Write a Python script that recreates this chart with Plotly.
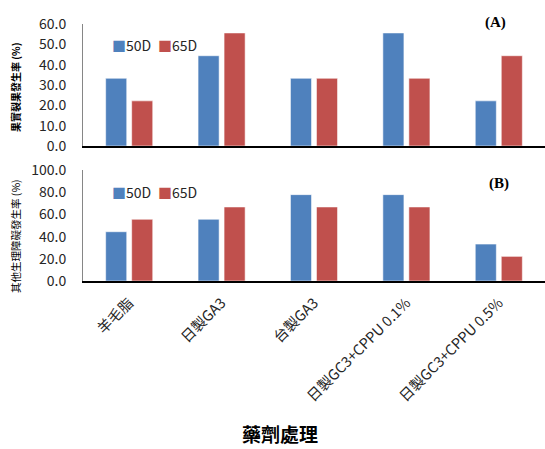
import plotly.graph_objects as go

categories = ["羊毛脂", "日製GA3", "台製GA3", "日製GC3+CPPU 0.1%", "日製GC3+CPPU 0.5%"]
a_50d = [33.3, 44.4, 33.3, 55.6, 22.2]
a_65d = [22.2, 55.6, 33.3, 33.3, 44.4]
b_50d = [44.4, 55.6, 77.8, 77.8, 33.3]
b_65d = [55.6, 66.7, 66.7, 66.7, 22.2]
series_names = ["50D", "65D"]
y_title_a = "果實裂果發生率 (%)"
y_title_b = "其他生理障礙發生率 (%)"
x_title = "藥劑處理"

BLUE = "#4F81BD"
RED = "#C0504D"
W, H = 545, 449
L = 83
FONT = "Noto Sans CJK TC, Noto Sans, sans-serif"

def py(px):
    return 1 - px / H

def pxx(px):
    return (px - L) / (W - L)

fig = go.Figure()
edge = dict(color="rgba(255,255,255,0.55)", width=1)
fig.add_trace(go.Bar(x=categories, y=a_50d, name=series_names[0], marker=dict(color=BLUE, line=edge),
                     xaxis="x", yaxis="y", showlegend=False))
fig.add_trace(go.Bar(x=categories, y=a_65d, name=series_names[1], marker=dict(color=RED, line=edge),
                     xaxis="x", yaxis="y", showlegend=False))
fig.add_trace(go.Bar(x=categories, y=b_50d, name=series_names[0], marker=dict(color=BLUE, line=edge),
                     xaxis="x2", yaxis="y2", showlegend=False))
fig.add_trace(go.Bar(x=categories, y=b_65d, name=series_names[1], marker=dict(color=RED, line=edge),
                     xaxis="x2", yaxis="y2", showlegend=False))

tickfont = dict(family=FONT, size=14, color="#262626")
common_x = dict(type="category", range=[-0.5, 4.5], showline=True, linecolor="#000000", linewidth=1.5,
                ticks="", showgrid=False, zeroline=False, automargin=False)
common_y = dict(showline=True, linecolor="#868686", linewidth=1, ticks="", showgrid=False, zeroline=False,
                tickformat=".1f", tickfont=tickfont, automargin=False, ticklabelstandoff=13)

fig.update_layout(
    width=W, height=H,
    margin=dict(l=L, r=0, t=0, b=0),
    paper_bgcolor="white", plot_bgcolor="white",
    barmode="group", bargap=0.437, bargroupgap=0.19,
    xaxis=dict(domain=[0, 1], anchor="y", showticklabels=False, **common_x),
    yaxis=dict(domain=[py(146), py(24)], anchor="x", range=[0, 60], dtick=10, **common_y),
    xaxis2=dict(domain=[0, 1], anchor="y2", showticklabels=True, tickangle=-45,
                tickfont=dict(family=FONT, size=14.5, color="#262626"), ticklabelstandoff=6, **common_x),
    yaxis2=dict(domain=[py(281), py(170)], anchor="x2", range=[0, 100], dtick=20, **common_y),
    showlegend=False,
)

# Legends drawn as compact text entries (square swatch + label)
def legend_entries(ycenter):
    for name, color, x0 in [(series_names[0], BLUE, 110), (series_names[1], RED, 156)]:
        fig.add_annotation(
            text=f"<span style='color:{color}'>■</span>{name}",
            xref="paper", yref="paper", x=pxx(x0), y=py(ycenter), showarrow=False,
            xanchor="left", yanchor="middle",
            font=dict(family=FONT, size=14, color="#262626"),
        )

legend_entries(45)
legend_entries(192)

fig.add_annotation(text="<b>(A)</b>", xref="paper", yref="paper", x=pxx(495), y=py(23), showarrow=False,
                   font=dict(family="Liberation Serif", size=15, color="#000000"), xanchor="center", yanchor="middle")
fig.add_annotation(text="<b>(B)</b>", xref="paper", yref="paper", x=pxx(499), y=py(183), showarrow=False,
                   font=dict(family="Liberation Serif", size=15, color="#000000"), xanchor="center", yanchor="middle")
fig.add_annotation(text="<b>" + y_title_a + "</b>", xref="paper", yref="paper", x=pxx(16), y=py(88), showarrow=False,
                   textangle=-90, font=dict(family=FONT, size=10, color="#000000"), xanchor="center", yanchor="middle")
fig.add_annotation(text=y_title_b, xref="paper", yref="paper", x=pxx(15), y=py(236), showarrow=False,
                   textangle=-90, font=dict(family=FONT, size=10.5, color="#000000"), xanchor="center", yanchor="middle")
fig.add_annotation(text="<b>" + x_title + "</b>", xref="paper", yref="paper", x=pxx(280), y=py(433), showarrow=False,
                   font=dict(family=FONT, size=19, color="#000000"), xanchor="center", yanchor="middle")

fig.write_html("out.html")
